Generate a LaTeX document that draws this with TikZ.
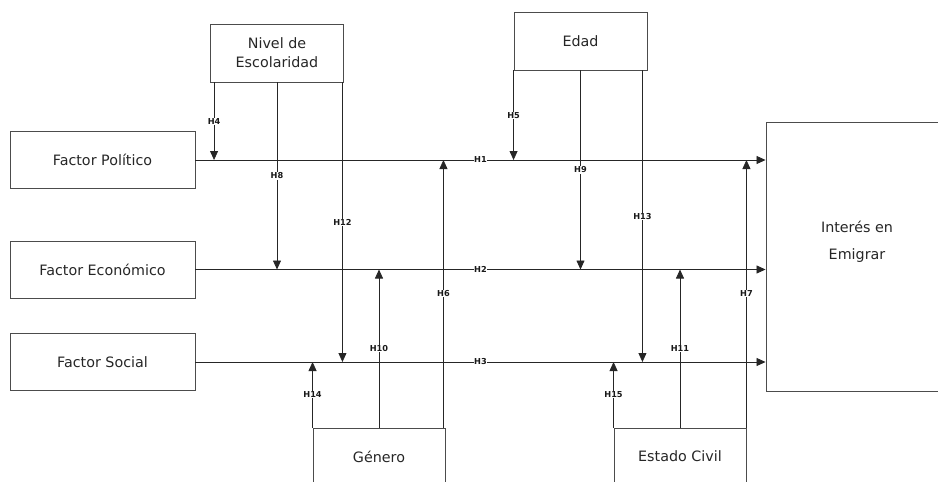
\documentclass[tikz,border=0pt]{standalone}
\usepackage{fontspec}
\setmainfont{DejaVu Sans}
\usetikzlibrary{arrows.meta}

\tikzset{
  caja/.style={draw=black!70, line width=0.9pt, inner sep=0pt, minimum height=57pt,
    align=center, text=black!85, font=\fontsize{14.3}{19}\selectfont},
  flecha/.style={draw=black!85, line width=0.8pt, -{Triangle[length=9pt,width=8pt]}},
  hip/.style={fill=white, inner sep=0.6pt, text=black!90,
    font=\fontsize{8.2}{9}\bfseries\selectfont}
}

\begin{document}
\begin{tikzpicture}[x=1pt,y=-1pt]
\useasboundingbox (0,0) rectangle (938,482);
\clip (0,0) rectangle (938,482);

\node[caja, minimum width=185pt] (pol) at (102.5,160) {Factor Político};
\node[caja, minimum width=185pt] (eco) at (102.5,269.5) {Factor Económico};
\node[caja, minimum width=185pt] (soc) at (102.5,362) {Factor Social};

\node[caja, minimum width=133pt, minimum height=58pt] (esc) at (277,53) {Nivel de\\Escolaridad};
\node[caja, minimum width=133pt, minimum height=58pt] (edad) at (580.5,41) {Edad};

\node[caja, minimum width=182pt, minimum height=269pt] (int) at (857,256.5) {};
\node[align=center, text=black!85, font=\fontsize{14.3}{27}\selectfont] (inttxt) at (857,242) {Interés en\\Emigrar};

\node[caja, minimum width=132pt] (gen) at (379,456.5) {Género};
\node[caja, minimum width=132pt] (est) at (680,456.5) {Estado Civil};

% efectos directos
\draw[flecha] (pol.east) -- (pol.east -| int.west) node[hip, pos=0.5] {H1};
\draw[flecha] (eco.east) -- (eco.east -| int.west) node[hip, pos=0.5] {H2};
\draw[flecha] (soc.east) -- (soc.east -| int.west) node[hip, pos=0.5] {H3};

% nivel de escolaridad
\draw[flecha] ([xshift=4pt]esc.south west) -- ([xshift=4pt]esc.south west |- pol.east) node[hip, pos=0.5] {H4};
\draw[flecha] (esc.south) -- (esc.south |- eco.east) node[hip, pos=0.5] {H8};
\draw[flecha] ([xshift=-1.5pt]esc.south east) -- ([xshift=-1.5pt]esc.south east |- soc.east) node[hip, pos=0.5] {H12};

% edad
\draw[flecha] (edad.south west) -- (edad.south west |- pol.east) node[hip, pos=0.5] {H5};
\draw[flecha] (edad.south) -- (edad.south |- eco.east) node[hip, pos=0.5] {H9};
\draw[flecha] ([xshift=-5pt]edad.south east) -- ([xshift=-5pt]edad.south east |- soc.east) node[hip, pos=0.5] {H13};

% genero
\draw[flecha] ([xshift=-2pt]gen.north east) -- ([xshift=-2pt]gen.north east |- pol.east) node[hip, pos=0.5] {H6};
\draw[flecha] (gen.north) -- (gen.north |- eco.east) node[hip, pos=0.5] {H10};
\draw[flecha] (gen.north west) -- (gen.north west |- soc.east) node[hip, pos=0.5] {H14};

% estado civil
\draw[flecha] (est.north east) -- (est.north east |- pol.east) node[hip, pos=0.5] {H7};
\draw[flecha] (est.north) -- (est.north |- eco.east) node[hip, pos=0.5] {H11};
\draw[flecha] (est.north west) -- (est.north west |- soc.east) node[hip, pos=0.5] {H15};

\end{tikzpicture}
\end{document}
